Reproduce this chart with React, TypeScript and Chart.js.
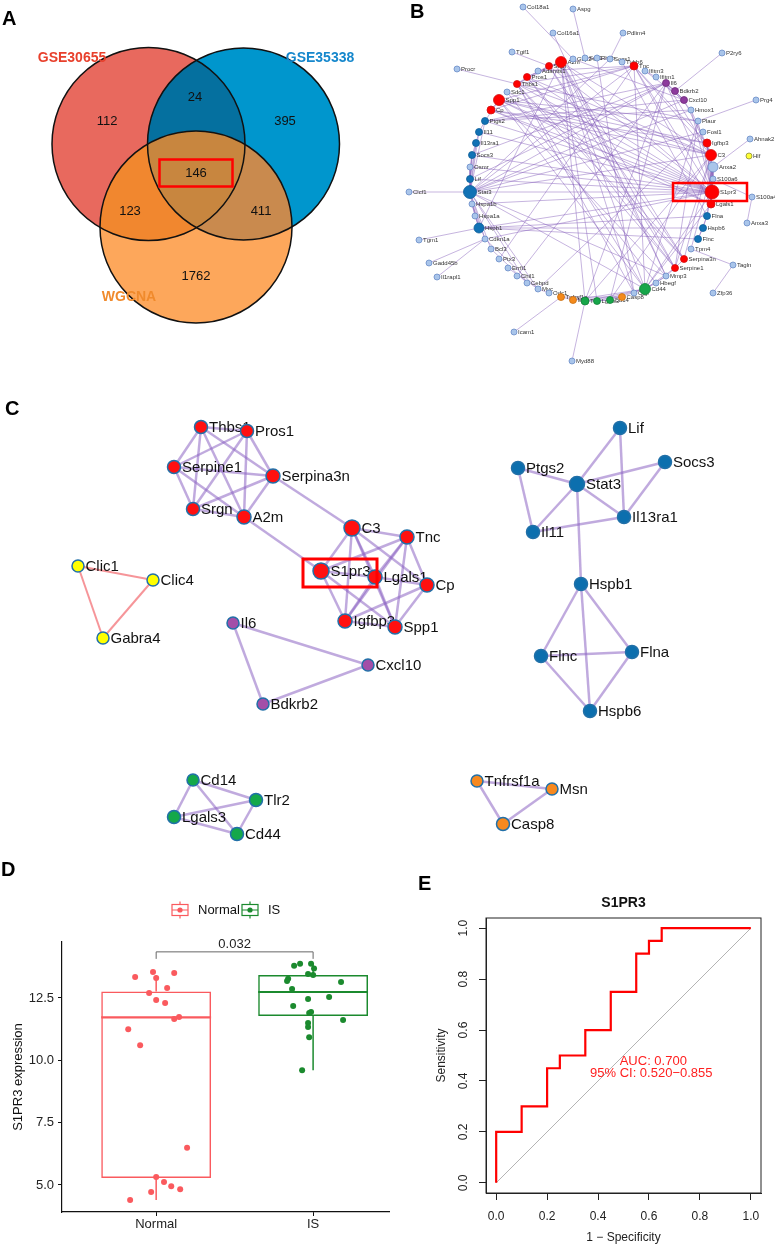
import React, { useEffect, useRef } from 'react';
import { Chart, registerables } from 'chart.js';

Chart.register(...registerables);

const FONT = '"Liberation Sans", Arial, Helvetica, sans-serif';

// ======================= DATA =======================
// Panel A – Venn counts
const vennSets = ['GSE30655', 'GSE35338', 'WGCNA'];
const vennRegionKeys = ['100', '110', '010', '111', '101', '011', '001'];
const vennCounts = [112, 24, 395, 146, 123, 411, 1762];
const vennHighlighted = '111';

// Panel B – full PPI network (layout coordinates of the nodes)
const bNodeNames = ['Col18a1','Aspg','Col16a1','Pdlim4','Tgif1','P2ry6','Procr','Prg4','Ahnak2','Hlf','Clcf1','S100a4','Anxa3','Tgm1','Gadd45b','Il1rapl1','Tagln','Zfp36','Icam1','Myd88',
  'A2m','Srgn','Adamts1','Pros1','Thbs1','Sdc1','Spp1','Cp','Ptgs2','Il11','Il13ra1','Socs3','Osmr','Lif','Stat3','Hspa1b','Hspa1a','Hspb1','Cdkn1a','Bcl3','Ptx3','Errfi1','Chil1','Cebpd','Myc','Odc1',
  'Tnfrsf1a','Msn','Tlr2','Lgals3','Cd14','Casp8','Ctgf','Cd44','Hbegf','Mmp3','Serpine1','Serpina3n','Tpm4','Flnc','Hspb6','Flna','Lgals1','S1pr3','S100a6','Anxa2','C3','Igfbp3','Fosl1','Plaur','Hmox1',
  'Cxcl10','Bdkrb2','Il6','Ifitm1','Ifitm3','Tnc','Tubb6','Socs1','Rhob','Sgk1','Gbp2'];
const bNodeX = [523,573,553,623,512,722,457,756,750,749,409,752,747,419,429,437,733,713,514,572,
  561,549,538,527,517,507,499,491,485,479,476,472,470,470,470,472,475,479,485,491,499,508,517,527,538,549,
  561,573,585,597,610,622,634,645,656,666,675,684,691,698,703,707,711,712,713,713,711,707,703,698,691,
  684,675,666,656,645,634,622,610,597,585,573];
const bNodeY = [7,9,33,33,52,53,69,100,139,156,192,197,223,240,263,277,265,293,332,361,
  62,66,71,77,84,92,100,110,121,132,143,155,167,179,192,204,216,228,239,249,259,268,276,283,289,293,
  297,300,301,301,300,297,293,289,283,276,268,259,249,239,228,216,204,192,179,167,155,143,132,121,110,
  100,91,83,77,71,66,62,59,58,58,59];
const bNodeGroup = ['l','l','l','l','l','l','l','l','l','y','l','l','l','l','l','l','l','l','l','l',
  'r','r','l','r','r','l','r','r','b','b','b','b','l','b','b','l','l','b','l','l','l','l','l','l','l','l',
  'o','o','g','g','g','o','l','g','l','l','r','r','l','b','b','b','r','r','l','l','r','r','l','l','l',
  'p','p','p','l','l','r','l','l','l','l','l'];
const bNodeSize = [3,3,3,3,3,3,3,3,3,3,3,3,3,3,3,3,3,3,3,3,
  5.5,3.5,3,3.5,3.5,3,5.5,4,3.5,3.5,3.5,3.5,3,3.5,6.5,3,3,5,3,3,3,3,3,3,3,3,
  3.5,3.5,4,3.5,3.5,3.5,3,5.5,3,3,3.5,3.5,3,3.5,3.5,3.5,4,7,3,5,5.5,4,3,3,3,
  3.5,3.5,3.5,3,3,4,3,3,3,3,3];
const bEdges = [
  'Col18a1-Gbp2','Aspg-Sgk1','Col16a1-Mmp3','Pdlim4-Socs1','Tgif1-Srgn','P2ry6-Bdkrb2','Procr-Thbs1','Prg4-Plaur','Ahnak2-Anxa2',
  'Clcf1-Stat3','S100a4-Anxa3','S100a4-S100a6','Tgm1-Hspb1','Gadd45b-Cdkn1a','Il1rapl1-Cdkn1a','Tagln-Tpm4','Tagln-Zfp36','Icam1-Tnfrsf1a','Myd88-Tlr2',
  'Thbs1-Pros1','Thbs1-Serpine1','Thbs1-Srgn','Thbs1-A2m','Thbs1-Serpina3n','Pros1-Serpine1','Pros1-Srgn','Pros1-A2m','Pros1-Serpina3n',
  'Serpine1-Serpina3n','Serpine1-Srgn','Serpine1-A2m','Srgn-A2m','Srgn-Serpina3n','A2m-Serpina3n','Serpina3n-C3','A2m-S1pr3',
  'C3-Tnc','C3-S1pr3','C3-Lgals1','C3-Igfbp3','C3-Cp','C3-Spp1','Tnc-Lgals1','Tnc-Cp','Tnc-Spp1','Tnc-S1pr3','Tnc-Igfbp3',
  'S1pr3-Lgals1','S1pr3-Igfbp3','S1pr3-Spp1','Lgals1-Cp','Lgals1-Igfbp3','Lgals1-Spp1','Cp-Spp1','Cp-Igfbp3','Igfbp3-Spp1',
  'Il6-Cxcl10','Il6-Bdkrb2','Bdkrb2-Cxcl10',
  'Lif-Stat3','Lif-Il13ra1','Ptgs2-Stat3','Ptgs2-Il11','Socs3-Stat3','Socs3-Il13ra1','Stat3-Il11','Stat3-Il13ra1','Il11-Il13ra1',
  'Stat3-Hspb1','Hspb1-Flnc','Hspb1-Flna','Hspb1-Hspb6','Flnc-Flna','Flnc-Hspb6','Flna-Hspb6',
  'Cd14-Tlr2','Cd14-Lgals3','Cd14-Cd44','Tlr2-Lgals3','Tlr2-Cd44','Lgals3-Cd44','Tnfrsf1a-Msn','Tnfrsf1a-Casp8','Msn-Casp8',
  'S1pr3-Stat3','S1pr3-Cp','S1pr3-Ptgs2','S1pr3-Socs3','S1pr3-Il11','S1pr3-Hspb1','S1pr3-Thbs1','S1pr3-Pros1','S1pr3-Anxa2',
  'S1pr3-S100a6','S1pr3-Il6','S1pr3-Cd44','S1pr3-Hmox1','S1pr3-Lif','S1pr3-Osmr','S1pr3-Cdkn1a','S1pr3-Plaur','S1pr3-Flna',
  'S1pr3-Hspa1b','S1pr3-Sdc1','S1pr3-Srgn','C3-Il6','C3-Cxcl10','C3-Stat3','C3-Serpine1','C3-Cd14','C3-Tlr2','C3-Hmox1',
  'C3-A2m','C3-Pros1','C3-Thbs1','Stat3-Osmr','Stat3-Il6','Stat3-Cebpd','Stat3-Myc','Stat3-Bcl3','Stat3-Hspa1b','Stat3-Cdkn1a',
  'Stat3-Hmox1','Stat3-Cd44','Stat3-Tnc','Stat3-Socs1','Stat3-Fosl1','Stat3-Cxcl10','Stat3-Mmp3','Cd44-Spp1','Cd44-Mmp3',
  'Cd44-Hbegf','Cd44-Lgals1','Cd44-Msn','Cd44-Tnc','Cd44-Serpine1','Cd44-Plaur','A2m-Cd44','A2m-Mmp3','A2m-Lgals3','A2m-Hspb1',
  'A2m-Tlr2','A2m-Ctgf','Il6-Socs3','Il6-Ptgs2','Il6-Lif','Il6-Tlr2','Il6-Cd14','Il6-Hmox1','Spp1-Mmp3','Spp1-Plaur',
  'Thbs1-Tnc','Thbs1-Cd44','Thbs1-Plaur','Thbs1-Ctgf','Ptgs2-Hmox1','Ptgs2-Cxcl10','Ptgs2-Spp1','Hspa1a-Hspa1b','Hspa1a-Hspb1',
  'Hspb1-Hspa1b','Serpine1-Plaur','Serpine1-Mmp3','Tpm4-Anxa2','Anxa2-S100a6','Anxa2-Flna','Anxa2-Lgals1','Tubb6-Flna',
  'Ifitm1-Ifitm3','Ifitm3-Cxcl10','Gbp2-Cxcl10','Rhob-Ctgf','Sgk1-Socs1','Errfi1-Myc','Odc1-Myc','Cebpd-Bcl3','Cdkn1a-Myc',
  'Ptx3-Tnc','Chil1-Il6','Fosl1-Myc','Sdc1-Hbegf','Adamts1-Tnc','Hbegf-Mmp3','Osmr-Lif','Osmr-Socs3','Lif-Socs3','Hspa1b-Cdkn1a'
];

// Panel C – MCODE modules
const cNodeNames = ['Thbs1','Pros1','Serpine1','Serpina3n','Srgn','A2m','C3','Tnc','S1pr3','Lgals1','Cp','Igfbp3','Spp1',
  'Clic1','Clic4','Gabra4','Il6','Cxcl10','Bdkrb2','Lif','Ptgs2','Socs3','Stat3','Il13ra1','Il11','Hspb1','Flnc','Flna','Hspb6',
  'Cd14','Tlr2','Lgals3','Cd44','Tnfrsf1a','Msn','Casp8'];
const cNodeX = [201,247,174,273,193,244,352,407,321,375,427,345,395,78,153,103,233,368,263,620,518,665,577,624,533,581,541,632,590,193,256,174,237,477,552,503];
const cNodeY = [427,431,467,476,509,517,528,537,571,577,585,621,627,566,580,638,623,665,704,428,468,462,484,517,532,584,656,652,711,780,800,817,834,781,789,824];
const cNodeGroup = ['r','r','r','r','r','r','r','r','r','r','r','r','r','y','y','y','p','p','p','b','b','b','b','b','b','b','b','b','b','g','g','g','g','o','o','o'];
const cNodeSize = [6.5,6.5,6.5,7,6.5,7,8,7,8,7,7,7,7,6,6,6,6,6,6,6.5,6.5,6.5,7.5,6.5,6.5,6.5,6.5,6.5,6.5,6,6.5,6.5,6.5,6,6,6.5];
const cEdges = [
  'Thbs1-Pros1','Thbs1-Serpine1','Thbs1-Srgn','Thbs1-A2m','Thbs1-Serpina3n','Pros1-Serpine1','Pros1-Srgn','Pros1-A2m','Pros1-Serpina3n',
  'Serpine1-Serpina3n','Serpine1-Srgn','Serpine1-A2m','Srgn-A2m','Srgn-Serpina3n','A2m-Serpina3n','Serpina3n-C3','A2m-S1pr3',
  'C3-Tnc','C3-S1pr3','C3-Lgals1','C3-Igfbp3','C3-Cp','C3-Spp1','Tnc-Lgals1','Tnc-Cp','Tnc-Spp1','Tnc-S1pr3','Tnc-Igfbp3',
  'S1pr3-Lgals1','S1pr3-Igfbp3','S1pr3-Spp1','Lgals1-Cp','Lgals1-Igfbp3','Lgals1-Spp1','Cp-Spp1','Cp-Igfbp3','Igfbp3-Spp1',
  'Clic1-Clic4','Clic1-Gabra4','Clic4-Gabra4','Il6-Cxcl10','Il6-Bdkrb2','Bdkrb2-Cxcl10',
  'Lif-Stat3','Lif-Il13ra1','Ptgs2-Stat3','Ptgs2-Il11','Socs3-Stat3','Socs3-Il13ra1','Stat3-Il11','Stat3-Il13ra1','Il11-Il13ra1',
  'Stat3-Hspb1','Hspb1-Flnc','Hspb1-Flna','Hspb1-Hspb6','Flnc-Flna','Flnc-Hspb6','Flna-Hspb6',
  'Cd14-Tlr2','Cd14-Lgals3','Cd14-Cd44','Tlr2-Lgals3','Tlr2-Cd44','Lgals3-Cd44','Tnfrsf1a-Msn','Tnfrsf1a-Casp8','Msn-Casp8'
];
const highlightedGene = 'S1pr3';

// Panel D – S1PR3 expression box plot
const boxCategories = ['Normal', 'IS'];
const boxWhiskerLow = [4.4, 9.6];
const boxQ1 = [5.28, 11.78];
const boxMedian = [11.72, 12.74];
const boxQ3 = [12.76, 13.42];
const boxWhiskerHigh = [13.42, 13.87];
const normalValues = [13.34, 13.54, 13.5, 13.3, 12.9, 12.7, 12.42, 12.3, 11.66, 11.74, 11.25, 10.6, 6.49, 5.32, 5.12, 4.95, 4.83, 4.72, 4.4];
const normalJitter = [-0.134, -0.02, 0.115, 0, 0.07, -0.045, 0, 0.057, 0.115, 0.146, -0.178, -0.102, 0.197, 0, 0.05, 0.096, 0.153, -0.032, -0.166];
const isValues = [13.79, 13.87, 13.87, 13.68, 13.46, 13.42, 13.27, 13.18, 13.14, 12.86, 12.54, 12.46, 12.18, 11.94, 11.9, 11.62, 11.5, 11.34, 10.93, 9.6];
const isJitter = [-0.121, -0.083, -0.013, 0.006, -0.032, 0, -0.159, -0.166, 0.178, -0.134, 0.102, -0.032, -0.127, -0.013, -0.025, 0.191, -0.032, -0.032, -0.025, -0.07];
const boxYTicks = [5, 7.5, 10, 12.5];
const compareLabel = '0.032';
const compareLevel = 14.35;

// Panel E – ROC curve
const rocFpr = [0, 0, 0.1, 0.2, 0.25, 0.35, 0.45, 0.55, 0.6, 0.65, 1];
const rocTpr = [0, 0.2, 0.3, 0.45, 0.5, 0.6, 0.75, 0.9, 0.95, 1, 1];
const rocDiagonal = [0, 1];
const rocTicks = [0, 0.2, 0.4, 0.6, 0.8, 1];
const rocTitle = 'S1PR3';
const rocAuc = 'AUC: 0.700';
const rocCi = '95% CI: 0.520\u22120.855';

// ======================= LAYOUT / STYLE =======================
const VENN_CIRCLES = [{ cx: 148.5, cy: 144, r: 96.5 }, { cx: 243.5, cy: 144, r: 96 }, { cx: 196, cy: 227, r: 96 }];
const VENN_FILL = ['#E8695E', '#0096CD', '#FDA75B'];
const VENN_PAIR_FILL: any = { '110': '#05709F', '101': '#F1872F', '011': '#C98A4E' };
const VENN_TRIPLE_FILL = '#C8863F';
const VENN_COUNT_POS = [[107, 121], [195, 97], [285, 121], [196, 173], [130, 211], [261, 211], [196, 276]];
const VENN_SET_POS = [[72, 58], [320, 58], [129, 297]];
const VENN_SET_COLOR = ['#E8402C', '#1587CC', '#F08A2C'];
const B_FILL: any = { l: '#A9C5EA', r: '#FF0000', b: '#1172B5', p: '#8D3A9D', g: '#17A64A', o: '#F48A1C', y: '#FFFF33' };
const B_STROKE: any = { l: '#6A8BC8', r: '#D01010', b: '#0E5E98', p: '#6E2C7C', g: '#128238', o: '#C86E12', y: '#8C8C3C' };
const C_FILL: any = { r: '#FF1010', y: '#FFFF00', p: '#A34FA8', b: '#0C6FAE', g: '#14A84A', o: '#F7891F' };
const C_STROKE = '#2170A8';
const BOX_COLORS = ['#FA5A5E', '#1B8A2E'];

function edgeDatasets(edges: string[], names: string[], xs: number[], ys: number[], styleOf: (a: number, b: number) => any) {
  const out: any[] = [];
  edges.forEach((e) => {
    const [a, b] = e.split('-');
    const i = names.indexOf(a);
    const j = names.indexOf(b);
    if (i < 0 || j < 0) return;
    const st = styleOf(i, j);
    out.push({
      data: [{ x: xs[i], y: ys[i] }, { x: xs[j], y: ys[j] }],
      showLine: true, pointRadius: 0, borderColor: st.color, borderWidth: st.width, order: 1, clip: false,
    });
  });
  return out;
}

const diagramPlugin = {
  id: 'diagramExtras',
  beforeDatasetsDraw(chart: any) {
    const { ctx, scales } = chart;
    const px = (v: number) => scales.x.getPixelForValue(v);
    const py = (v: number) => scales.y.getPixelForValue(v);
    const k = Math.abs(px(1) - px(0));
    const circ = (i: number) => {
      const c = VENN_CIRCLES[i];
      ctx.beginPath();
      ctx.arc(px(c.cx), py(c.cy), c.r * k, 0, Math.PI * 2);
    };
    ctx.save();
    for (let i = 0; i < 3; i++) { circ(i); ctx.fillStyle = VENN_FILL[i]; ctx.fill(); }
    const pairs: any[] = [[0, 1, '110'], [0, 2, '101'], [1, 2, '011']];
    pairs.forEach(([i, j, key]) => {
      ctx.save(); circ(i); ctx.clip(); circ(j); ctx.fillStyle = VENN_PAIR_FILL[key]; ctx.fill(); ctx.restore();
    });
    ctx.save(); circ(0); ctx.clip(); circ(1); ctx.clip(); circ(2); ctx.fillStyle = VENN_TRIPLE_FILL; ctx.fill(); ctx.restore();
    ctx.lineWidth = 1.5; ctx.strokeStyle = '#111';
    for (let i = 0; i < 3; i++) { circ(i); ctx.stroke(); }
    ctx.fillStyle = '#111'; ctx.font = `13px ${FONT}`; ctx.textAlign = 'center'; ctx.textBaseline = 'middle';
    vennCounts.forEach((n, i) => {
      const [x, y] = VENN_COUNT_POS[i];
      ctx.fillText(String(n), px(x), py(y));
      if (vennRegionKeys[i] === vennHighlighted) {
        ctx.strokeStyle = '#FF0000'; ctx.lineWidth = 2.5;
        ctx.strokeRect(px(x - 36.5), py(y - 13.5), 73 * k, 27 * k);
      }
    });
    ctx.font = `bold 14px ${FONT}`;
    vennSets.forEach((s, i) => {
      ctx.fillStyle = VENN_SET_COLOR[i];
      ctx.fillText(s, px(VENN_SET_POS[i][0]), py(VENN_SET_POS[i][1]));
    });
    ctx.restore();
  },
  beforeDatasetDraw(chart: any, args: any) {
    const { ctx, scales } = chart;
    const px = (v: number) => scales.x.getPixelForValue(v);
    const py = (v: number) => scales.y.getPixelForValue(v);
    ctx.save();
    ctx.textAlign = 'left'; ctx.textBaseline = 'middle';
    if (args.index === 0) {
      ctx.font = `6px ${FONT}`; ctx.fillStyle = '#333';
      bNodeNames.forEach((n, i) => ctx.fillText(n, px(bNodeX[i]) + bNodeSize[i] + 1, py(bNodeY[i])));
    } else if (args.index === 1) {
      ctx.font = `15px ${FONT}`; ctx.fillStyle = '#111';
      cNodeNames.forEach((n, i) => ctx.fillText(n, px(cNodeX[i]) + cNodeSize[i] + 1.5, py(cNodeY[i]) + 1));
    }
    ctx.restore();
  },
  afterDatasetsDraw(chart: any) {
    const { ctx, scales } = chart;
    const px = (v: number) => scales.x.getPixelForValue(v);
    const py = (v: number) => scales.y.getPixelForValue(v);
    ctx.save();
    ctx.strokeStyle = '#FF0000';
    const bi = bNodeNames.indexOf(highlightedGene);
    ctx.lineWidth = 2.5;
    ctx.strokeRect(px(bNodeX[bi] - 39), py(bNodeY[bi] - 9), px(bNodeX[bi] + 35) - px(bNodeX[bi] - 39), py(bNodeY[bi] + 9) - py(bNodeY[bi] - 9));
    const ci = cNodeNames.indexOf(highlightedGene);
    ctx.lineWidth = 3;
    ctx.strokeRect(px(cNodeX[ci] - 18), py(cNodeY[ci] - 12), px(cNodeX[ci] + 56) - px(cNodeX[ci] - 18), py(cNodeY[ci] + 16) - py(cNodeY[ci] - 12));
    ctx.fillStyle = '#000'; ctx.font = `bold 20px ${FONT}`; ctx.textAlign = 'left'; ctx.textBaseline = 'alphabetic';
    ctx.fillText('A', 2, 25);
    ctx.fillText('B', 410, 18);
    ctx.fillText('C', 5, 415);
    ctx.restore();
  },
};

function DiagramPanels() {
  const ref = useRef<HTMLCanvasElement>(null);
  useEffect(() => {
    const canvas = ref.current!;
    const bNodes = {
      data: bNodeNames.map((_, i) => ({ x: bNodeX[i], y: bNodeY[i] })),
      pointRadius: bNodeSize,
      pointBackgroundColor: bNodeGroup.map((g) => B_FILL[g]),
      pointBorderColor: bNodeGroup.map((g) => B_STROKE[g]),
      pointBorderWidth: 0.8, showLine: false, order: 0, clip: false,
    };
    const cNodes = {
      data: cNodeNames.map((_, i) => ({ x: cNodeX[i], y: cNodeY[i] })),
      pointRadius: cNodeSize,
      pointBackgroundColor: cNodeGroup.map((g) => C_FILL[g]),
      pointBorderColor: C_STROKE,
      pointBorderWidth: 1.5, showLine: false, order: 0, clip: false,
    };
    const bE = edgeDatasets(bEdges, bNodeNames, bNodeX, bNodeY, () => ({ color: 'rgba(128,88,185,0.45)', width: 1 }));
    const cE = edgeDatasets(cEdges, cNodeNames, cNodeX, cNodeY, (i, j) =>
      cNodeGroup[i] === 'y' && cNodeGroup[j] === 'y'
        ? { color: 'rgba(245,130,135,0.85)', width: 2 }
        : { color: 'rgba(140,100,195,0.55)', width: 2.5 });
    const chart = new Chart(canvas, {
      type: 'scatter',
      data: { datasets: [bNodes, cNodes, ...bE, ...cE] as any },
      options: {
        animation: false, responsive: false, events: [],
        layout: { padding: 0, autoPadding: false },
        plugins: { legend: { display: false }, tooltip: { enabled: false } },
        scales: {
          x: { type: 'linear', display: false, min: 0, max: 775 },
          y: { type: 'linear', display: false, min: 0, max: 850, reverse: true },
        },
      },
      plugins: [diagramPlugin as any],
    });
    return () => chart.destroy();
  }, []);
  return <canvas ref={ref} width={775} height={850} style={{ position: 'absolute', left: 0, top: 0, width: 775, height: 850 }} />;
}

const boxPlugin = {
  id: 'boxExtras',
  afterDatasetDraw(chart: any, args: any) {
    if (args.index !== 0) return;
    const { ctx, scales } = chart;
    ctx.save();
    args.meta.data.forEach((bar: any, i: number) => {
      const p = bar.getProps(['x', 'width'], true);
      const yy = scales.y.getPixelForValue(boxMedian[i]);
      ctx.strokeStyle = BOX_COLORS[i]; ctx.lineWidth = 2.2;
      ctx.beginPath(); ctx.moveTo(p.x - p.width / 2, yy); ctx.lineTo(p.x + p.width / 2, yy); ctx.stroke();
    });
    ctx.restore();
  },
  afterDraw(chart: any) {
    const { ctx, scales, chartArea } = chart;
    const x = scales.x, y = scales.y;
    ctx.save();
    const x1 = x.getPixelForValue(1), x2 = x.getPixelForValue(2), yb = y.getPixelForValue(compareLevel);
    ctx.strokeStyle = '#666'; ctx.lineWidth = 1;
    ctx.beginPath(); ctx.moveTo(x1, yb + 7); ctx.lineTo(x1, yb); ctx.lineTo(x2, yb); ctx.lineTo(x2, yb + 7); ctx.stroke();
    ctx.fillStyle = '#222'; ctx.font = `13px ${FONT}`; ctx.textAlign = 'center'; ctx.textBaseline = 'bottom';
    ctx.fillText(compareLabel, (x1 + x2) / 2, yb - 0.5);
    const legendX = [172, 242];
    const textX = [198, 268];
    const ly = 60;
    boxCategories.forEach((c, i) => {
      const gx = legendX[i];
      ctx.strokeStyle = BOX_COLORS[i]; ctx.fillStyle = BOX_COLORS[i]; ctx.lineWidth = 1.2;
      ctx.strokeRect(gx, ly - 5.5, 16, 11);
      ctx.beginPath();
      ctx.moveTo(gx, ly); ctx.lineTo(gx + 16, ly);
      ctx.moveTo(gx + 8, ly - 5.5); ctx.lineTo(gx + 8, ly - 8.5);
      ctx.moveTo(gx + 8, ly + 5.5); ctx.lineTo(gx + 8, ly + 8.5);
      ctx.stroke();
      ctx.beginPath(); ctx.arc(gx + 8, ly, 2.6, 0, Math.PI * 2); ctx.fill();
      ctx.fillStyle = '#111'; ctx.font = `13px ${FONT}`; ctx.textAlign = 'left'; ctx.textBaseline = 'middle';
      ctx.fillText(c, textX[i], ly);
    });
    ctx.save();
    ctx.translate(18, (chartArea.top + chartArea.bottom) / 2);
    ctx.rotate(-Math.PI / 2);
    ctx.fillStyle = '#111'; ctx.font = `13px ${FONT}`; ctx.textAlign = 'center'; ctx.textBaseline = 'middle';
    ctx.fillText('S1PR3 expression', 0, 0);
    ctx.restore();
    ctx.fillStyle = '#000'; ctx.font = `bold 20px ${FONT}`; ctx.textAlign = 'left'; ctx.textBaseline = 'alphabetic';
    ctx.fillText('D', 1, 26);
    ctx.restore();
  },
};

function BoxPanel() {
  const ref = useRef<HTMLCanvasElement>(null);
  useEffect(() => {
    const canvas = ref.current!;
    const whiskers: any[] = [];
    boxCategories.forEach((_, i) => {
      whiskers.push({ data: [{ x: i + 1, y: boxWhiskerLow[i] }, { x: i + 1, y: boxQ1[i] }], showLine: true, pointRadius: 0, borderColor: BOX_COLORS[i], borderWidth: 1.5, order: 2 });
      whiskers.push({ data: [{ x: i + 1, y: boxQ3[i] }, { x: i + 1, y: boxWhiskerHigh[i] }], showLine: true, pointRadius: 0, borderColor: BOX_COLORS[i], borderWidth: 1.5, order: 2 });
    });
    const chart = new Chart(canvas, {
      type: 'scatter',
      data: {
        datasets: [
          {
            type: 'bar',
            data: boxCategories.map((_, i) => ({ x: i + 1, y: [boxQ1[i], boxQ3[i]] })),
            backgroundColor: 'rgba(255,255,255,0)', borderColor: BOX_COLORS, borderWidth: 1.5, borderSkipped: false,
            barPercentage: 1, categoryPercentage: 0.7, order: 3,
          },
          ...whiskers,
          { data: normalValues.map((v, i) => ({ x: 1 + normalJitter[i], y: v })), pointRadius: 3, pointBorderWidth: 0, pointBackgroundColor: BOX_COLORS[0], order: 1 },
          { data: isValues.map((v, i) => ({ x: 2 + isJitter[i], y: v })), pointRadius: 3, pointBorderWidth: 0, pointBackgroundColor: BOX_COLORS[1], order: 1 },
        ] as any,
      },
      options: {
        animation: false, responsive: false, events: [],
        layout: { padding: { top: 92, right: 0, left: 0, bottom: 0 }, autoPadding: false },
        plugins: { legend: { display: false }, tooltip: { enabled: false } },
        scales: {
          x: {
            type: 'linear', min: 0.4, max: 2.49, offset: false,
            afterFit: (s: any) => { s.height = 34; },
            afterBuildTicks: (s: any) => { s.ticks = boxCategories.map((_, i) => ({ value: i + 1 })); },
            ticks: { callback: (v: any) => boxCategories[Math.round(v) - 1], font: { family: FONT, size: 13 }, color: '#222', padding: 1, maxRotation: 0, autoSkip: false },
            grid: { display: true, drawOnChartArea: false, drawTicks: true, tickLength: 4, color: '#111', offset: false },
            border: { display: true, color: '#111', width: 1.2 },
          },
          y: {
            type: 'linear', min: 3.917, max: 14.746,
            afterFit: (s: any) => { s.width = 62; },
            afterBuildTicks: (s: any) => { s.ticks = boxYTicks.map((v) => ({ value: v })); },
            ticks: { callback: (v: any) => Number(v).toFixed(1), font: { family: FONT, size: 13 }, color: '#222', padding: 4 },
            grid: { display: true, drawOnChartArea: false, drawTicks: true, tickLength: 4, color: '#111' },
            border: { display: true, color: '#111', width: 1.2 },
          },
        },
      },
      plugins: [boxPlugin as any],
    });
    return () => chart.destroy();
  }, []);
  return <canvas ref={ref} width={390} height={396} style={{ position: 'absolute', left: 0, top: 850, width: 390, height: 396 }} />;
}

const rocPlugin = {
  id: 'rocExtras',
  afterDraw(chart: any) {
    const { ctx, scales, chartArea } = chart;
    const x = scales.x, y = scales.y;
    ctx.save();
    ctx.strokeStyle = '#222'; ctx.lineWidth = 1;
    ctx.strokeRect(chartArea.left, chartArea.top, chartArea.right - chartArea.left, chartArea.bottom - chartArea.top);
    ctx.fillStyle = '#222'; ctx.font = `12px ${FONT}`; ctx.textAlign = 'center'; ctx.textBaseline = 'middle';
    rocTicks.forEach((v) => {
      ctx.save();
      ctx.translate(chartArea.left - 22, y.getPixelForValue(v));
      ctx.rotate(-Math.PI / 2);
      ctx.fillText(v.toFixed(1), 0, 0);
      ctx.restore();
    });
    ctx.save();
    ctx.translate(chartArea.left - 44, (chartArea.top + chartArea.bottom) / 2);
    ctx.rotate(-Math.PI / 2);
    ctx.fillText('Sensitivity', 0, 0);
    ctx.restore();
    ctx.fillText('1 \u2212 Specificity', (chartArea.left + chartArea.right) / 2, chartArea.bottom + 45);
    ctx.font = `bold 14px ${FONT}`; ctx.fillStyle = '#111';
    ctx.fillText(rocTitle, (chartArea.left + chartArea.right) / 2, chartArea.top - 15);
    ctx.font = `13px ${FONT}`; ctx.fillStyle = '#FF2020';
    ctx.fillText(rocAuc, x.getPixelForValue(0.617), y.getPixelForValue(0.478));
    ctx.fillText(rocCi, x.getPixelForValue(0.609), y.getPixelForValue(0.431));
    ctx.fillStyle = '#000'; ctx.font = `bold 20px ${FONT}`; ctx.textAlign = 'left'; ctx.textBaseline = 'alphabetic';
    ctx.fillText('E', 28, 40);
    ctx.restore();
  },
};

function RocPanel() {
  const ref = useRef<HTMLCanvasElement>(null);
  useEffect(() => {
    const canvas = ref.current!;
    const chart = new Chart(canvas, {
      type: 'scatter',
      data: {
        datasets: [
          { data: rocDiagonal.map((v) => ({ x: v, y: v })), showLine: true, borderColor: '#B4B4B4', borderWidth: 1, pointRadius: 0, order: 2 },
          { data: rocFpr.map((f, i) => ({ x: f, y: rocTpr[i] })), showLine: true, stepped: 'before', borderColor: '#FF0000', borderWidth: 2.2, pointRadius: 0, order: 1 },
        ] as any,
      },
      options: {
        animation: false, responsive: false, events: [],
        layout: { padding: { top: 68, right: 14, left: 0, bottom: 0 }, autoPadding: false },
        plugins: { legend: { display: false }, tooltip: { enabled: false } },
        scales: {
          x: {
            type: 'linear', min: -0.04, max: 1.04,
            afterFit: (s: any) => { s.height = 53; },
            afterBuildTicks: (s: any) => { s.ticks = rocTicks.map((v) => ({ value: v })); },
            ticks: { callback: (v: any) => Number(v).toFixed(1), font: { family: FONT, size: 12 }, color: '#222', padding: 9, maxRotation: 0, autoSkip: false },
            grid: { display: true, drawOnChartArea: false, drawTicks: true, tickLength: 7, color: '#222' },
            border: { display: true, color: '#222', width: 1 },
          },
          y: {
            type: 'linear', min: -0.04, max: 1.04,
            afterFit: (s: any) => { s.width = 96; },
            afterBuildTicks: (s: any) => { s.ticks = rocTicks.map((v) => ({ value: v })); },
            ticks: { callback: (v: any) => Number(v).toFixed(1), font: { family: FONT, size: 12 }, color: 'rgba(0,0,0,0)' },
            grid: { display: true, drawOnChartArea: false, drawTicks: true, tickLength: 7, color: '#222' },
            border: { display: true, color: '#222', width: 1 },
          },
        },
      },
      plugins: [rocPlugin as any],
    });
    return () => chart.destroy();
  }, []);
  return <canvas ref={ref} width={385} height={396} style={{ position: 'absolute', left: 390, top: 850, width: 385, height: 396 }} />;
}

export default function App() {
  useEffect(() => {
    document.body.style.margin = '0';
  }, []);
  return (
    <div style={{ position: 'relative', width: 775, height: 1246, background: '#ffffff', overflow: 'hidden' }}>
      <DiagramPanels />
      <BoxPanel />
      <RocPanel />
    </div>
  );
}
